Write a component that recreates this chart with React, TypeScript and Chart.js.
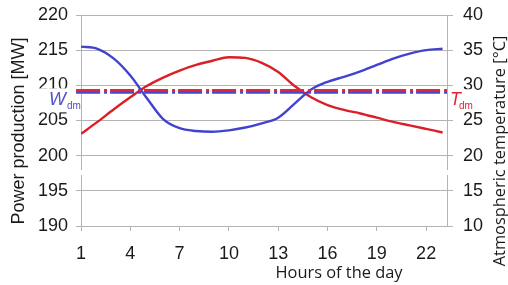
import React, { useEffect, useRef } from "react";
import { Chart, registerables } from "chart.js";

Chart.register(...registerables);

// ---- data ----
const hours = [1, 2, 3, 4, 5, 6, 7, 8, 9, 10, 11, 12, 13, 14, 15, 16, 17, 18, 19, 20, 21, 22, 23];
const powerMW = [215.5, 215.2, 213.8, 211.4, 208.2, 205.2, 203.9, 203.5, 203.4, 203.6, 204.0, 204.6, 205.4, 207.4, 209.4, 210.5, 211.2, 212.0, 212.9, 213.8, 214.5, 215.0, 215.2];
const temperatureC = [23.1, 24.8, 26.6, 28.3, 29.9, 31.1, 32.1, 32.9, 33.5, 34.0, 33.9, 33.2, 31.9, 29.9, 28.3, 27.2, 26.5, 26.0, 25.4, 24.8, 24.3, 23.8, 23.3];
const xTickValues = [1, 4, 7, 10, 13, 16, 19, 22];
const powerRange = [190, 220];
const tempRange = [10, 40];
const tickStep = 5;
const wdm = 209.0; // mean power
const tdm = 29.3; // mean temperature
const meanLineHours = [0.7, 23.27];
const axisBreakValue = 197.6;

const TICK_FONT = "'Liberation Sans', Arial, sans-serif";
const TITLE_FONT2 = "'Open Sans', sans-serif";
const BLUE = "rgb(66, 66, 208)";
const RED = "rgb(218, 32, 38)";
const GRID = "#b4b4b4";

const annotate = {
  id: "annotate",
  afterDraw(chart: any) {
    const ctx = chart.ctx as CanvasRenderingContext2D;
    const ca = chart.chartArea;
    const y = chart.scales.y;
    const y1 = chart.scales.y1;
    ctx.save();
    // axis breaks
    const by = y.getPixelForValue(axisBreakValue);
    ctx.fillStyle = "#fff";
    ctx.fillRect(ca.left - 3, by - 2.5, 6, 5);
    ctx.fillRect(ca.right - 3, by - 2.5, 6, 5);

    // W_dm label
    const yw = y.getPixelForValue(wdm);
    ctx.fillStyle = "#fff";
    ctx.fillRect(30, yw - 4, ca.left - 36, 24);
    ctx.fillStyle = "rgb(80, 80, 205)";
    ctx.textAlign = "left";
    ctx.textBaseline = "alphabetic";
    ctx.font = "italic 18px 'Liberation Sans', Arial, sans-serif";
    ctx.fillText("W", 49, yw + 13);
    ctx.font = "10px 'Liberation Sans', Arial, sans-serif";
    ctx.fillText("dm", 67, yw + 17);

    // T_dm label
    const yt = y1.getPixelForValue(tdm);
    ctx.fillStyle = "#fff";
    ctx.fillRect(ca.right + 2, yt - 1, 24, 21);
    ctx.fillStyle = "rgb(228, 36, 46)";
    ctx.font = "italic 18px 'Liberation Sans', Arial, sans-serif";
    ctx.fillText("T", 450, yt + 15);
    ctx.font = "10px 'Liberation Sans', Arial, sans-serif";
    ctx.fillText("dm", 459, yt + 19);

    // axis titles
    ctx.fillStyle = "#1a1a1a";
    ctx.textAlign = "center";
    ctx.textBaseline = "middle";
    ctx.font = `18px ${TICK_FONT}`;
    ctx.save();
    ctx.translate(19, 131);
    ctx.rotate(-Math.PI / 2);
    ctx.fillText("Power production [MW]", 0, 0);
    ctx.restore();

    ctx.font = `16.4px ${TITLE_FONT2}`;
    ctx.save();
    ctx.translate(500, 151);
    ctx.rotate(-Math.PI / 2);
    ctx.fillText("Atmospheric temperature [°C]", 0, 0);
    ctx.restore();

    ctx.fillText("Hours of the day", 339, 273);
    ctx.restore();
  },
};

export default function App() {
  const ref = useRef<HTMLCanvasElement>(null);
  useEffect(() => {
    if (!ref.current) return;
    const powerPts = hours.map((h, i) => ({ x: h, y: powerMW[i] }));
    const tempPts = hours.map((h, i) => ({ x: h, y: temperatureC[i] }));
    const chart = new Chart(ref.current, {
      type: "line",
      data: {
        datasets: [
          {
            data: meanLineHours.map((h) => ({ x: h, y: tdm })),
            yAxisID: "y1",
            borderColor: "rgb(222, 40, 60)",
            borderWidth: 2.6,
            borderDash: [24, 4, 3, 3],
            pointRadius: 0,
            clip: false,
          } as any,
          {
            data: meanLineHours.map((h) => ({ x: h, y: wdm })),
            yAxisID: "y",
            borderColor: "rgb(72, 72, 205)",
            borderWidth: 2.6,
            borderDash: [24, 4, 3, 3],
            pointRadius: 0,
            clip: false,
          } as any,
          {
            data: powerPts,
            yAxisID: "y",
            borderColor: BLUE,
            borderWidth: 2.4,
            pointRadius: 0,
            cubicInterpolationMode: "monotone",
          },
          {
            data: tempPts,
            yAxisID: "y1",
            borderColor: RED,
            borderWidth: 2.4,
            pointRadius: 0,
            cubicInterpolationMode: "monotone",
          },
        ],
      },
      options: {
        animation: false,
        responsive: false,
        layout: { padding: { top: 15, left: 0, right: 0, bottom: 0 } },
        plugins: { legend: { display: false }, tooltip: { enabled: false } },
        scales: {
          x: {
            type: "linear",
            min: hours[0],
            max: meanLineHours[1],
            afterBuildTicks: (s: any) => {
              s.ticks = xTickValues.map((v) => ({ value: v }));
            },
            afterFit: (s: any) => {
              s.height = 59;
              s.paddingLeft = 0;
              s.paddingRight = 0;
            },
            grid: { drawOnChartArea: false, drawTicks: true, tickLength: 5, color: GRID },
            border: { color: GRID },
            ticks: {
              autoSkip: false,
              maxRotation: 0,
              padding: 12,
              color: "#1a1a1a",
              font: { family: TICK_FONT, size: 18 },
            },
          },
          y: {
            position: "left",
            min: powerRange[0],
            max: powerRange[1],
            afterFit: (s: any) => {
              s.width = 81;
              s.paddingTop = 0;
              s.paddingBottom = 0;
            },
            grid: { color: GRID, tickLength: 5 },
            border: { color: GRID },
            ticks: {
              stepSize: tickStep,
              padding: 8,
              color: "#1a1a1a",
              font: { family: TICK_FONT, size: 18 },
            },
          },
          y1: {
            position: "right",
            min: tempRange[0],
            max: tempRange[1],
            afterFit: (s: any) => {
              s.width = 61;
              s.paddingTop = 0;
              s.paddingBottom = 0;
            },
            grid: { drawOnChartArea: false, color: GRID, tickLength: 6 },
            border: { color: GRID },
            ticks: {
              stepSize: tickStep,
              padding: 10,
              color: "#1a1a1a",
              font: { family: TICK_FONT, size: 18 },
            },
          },
        },
      },
      plugins: [annotate],
    });
    return () => chart.destroy();
  }, []);
  return (
    <div style={{ position: "absolute", left: 0, top: 0, width: 508, height: 285, background: "#fff" }}>
      <canvas ref={ref} width={508} height={285} style={{ display: "block" }} />
    </div>
  );
}
